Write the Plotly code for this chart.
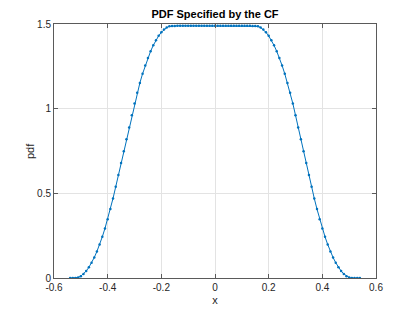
import plotly.graph_objects as go

x_values = [-0.54, -0.53, -0.52, -0.51, -0.50, -0.49, -0.48, -0.47, -0.46, -0.45,
            -0.44, -0.43, -0.42, -0.41, -0.40, -0.39, -0.38, -0.37, -0.36, -0.35,
            -0.34, -0.33, -0.32, -0.31, -0.30, -0.29, -0.28, -0.27, -0.26, -0.25,
            -0.24, -0.23, -0.22, -0.21, -0.20, -0.19, -0.18, -0.17, -0.16, -0.15,
            -0.14, -0.13, -0.12, -0.11, -0.10, -0.09, -0.08, -0.07, -0.06, -0.05,
            -0.04, -0.03, -0.02, -0.01, 0.00,
            0.01, 0.02, 0.03, 0.04, 0.05, 0.06, 0.07, 0.08, 0.09, 0.10,
            0.11, 0.12, 0.13, 0.14, 0.15, 0.16, 0.17, 0.18, 0.19, 0.20,
            0.21, 0.22, 0.23, 0.24, 0.25, 0.26, 0.27, 0.28, 0.29, 0.30,
            0.31, 0.32, 0.33, 0.34, 0.35, 0.36, 0.37, 0.38, 0.39, 0.40,
            0.41, 0.42, 0.43, 0.44, 0.45, 0.46, 0.47, 0.48, 0.49, 0.50,
            0.51, 0.52, 0.53, 0.54]

pdf_values = [0.000, 0.000, 0.000, 0.003, 0.011, 0.024, 0.041, 0.063, 0.090, 0.121,
              0.157, 0.198, 0.243, 0.293, 0.347, 0.407, 0.470, 0.539, 0.609, 0.679,
              0.749, 0.819, 0.889, 0.961, 1.031, 1.094, 1.152, 1.206, 1.255, 1.299,
              1.339, 1.374, 1.404, 1.430, 1.451, 1.467, 1.479, 1.486, 1.488, 1.488,
              1.489, 1.489, 1.489, 1.489, 1.489, 1.490, 1.490, 1.490, 1.490, 1.490,
              1.490, 1.490, 1.490, 1.490, 1.490,
              1.490, 1.490, 1.490, 1.490, 1.490, 1.490, 1.490, 1.490, 1.489, 1.489,
              1.489, 1.489, 1.489, 1.488, 1.488, 1.486, 1.479, 1.467, 1.451, 1.430,
              1.404, 1.374, 1.339, 1.299, 1.255, 1.206, 1.152, 1.094, 1.031, 0.961,
              0.889, 0.819, 0.749, 0.679, 0.609, 0.539, 0.470, 0.407, 0.347, 0.293,
              0.243, 0.198, 0.157, 0.121, 0.090, 0.063, 0.041, 0.024, 0.011, 0.003,
              0.000, 0.000, 0.000, 0.000]

x_ticks = [-0.6, -0.4, -0.2, 0, 0.2, 0.4, 0.6]
x_tick_labels = ["-0.6", "-0.4", "-0.2", "0", "0.2", "0.4", "0.6"]
y_ticks = [0, 0.5, 1, 1.5]
y_tick_labels = ["0", "0.5", "1", "1.5"]

title_text = "PDF Specified by the CF"
x_label = "x"
y_label = "pdf"

font_family = "Liberation Sans, Arial, sans-serif"
line_color = "#0072BD"
axis_color = "#262626"

fig = go.Figure()
fig.add_trace(go.Scatter(
    x=x_values, y=pdf_values, mode="lines+markers",
    line=dict(color=line_color, width=1),
    marker=dict(color=line_color, size=2.5),
    showlegend=False,
))

axis_common = dict(
    showline=True, linecolor="#5a5a5a", linewidth=1, mirror="ticks",
    ticks="inside", ticklen=4, tickcolor="#5a5a5a", tickwidth=1,
    showgrid=True, gridcolor="#e3e3e3", gridwidth=1,
    zeroline=False, automargin=False,
    tickfont=dict(family=font_family, size=10, color=axis_color),
)

fig.update_xaxes(range=[-0.6, 0.6], tickvals=x_ticks, ticktext=x_tick_labels,
                 title=dict(text=x_label, font=dict(family=font_family, size=11, color=axis_color), standoff=4),
                 **axis_common)
fig.update_yaxes(range=[0, 1.5], tickvals=y_ticks, ticktext=y_tick_labels,
                 **axis_common)

# The page body has an 8px default margin, so the figure is sized and
# padded to land the plot area where the reference has it.
fig.update_layout(
    width=407, height=304,
    margin=dict(l=46, r=39, t=16, b=34, autoexpand=False),
    paper_bgcolor="white", plot_bgcolor="white",
    title=dict(text="<b>" + title_text + "</b>", x=0.5, xref="paper",
               y=1 - 6 / 304, yref="container", yanchor="middle",
               automargin=False,
               font=dict(family=font_family, size=11, color="#000000")),
    font=dict(family=font_family),
)

fig.add_annotation(
    text=y_label, textangle=-90, showarrow=False,
    xref="paper", yref="paper", x=-24 / 322, y=0.5,
    xanchor="center", yanchor="middle",
    font=dict(family=font_family, size=11, color=axis_color),
)

fig.write_html("out.html")
